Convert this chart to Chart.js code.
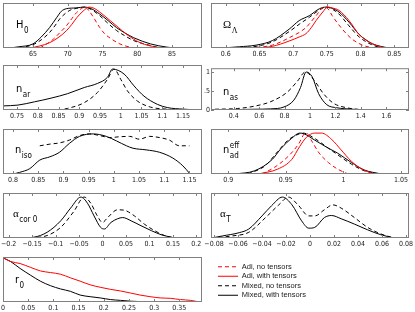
<!DOCTYPE html>
<html lang="en">
<head>
<meta charset="UTF-8">
<title>Marginalised posteriors</title>
<script src="https://cdn.jsdelivr.net/npm/chart.js"></script>
<style>
  body { margin: 0; background: #fff; }
  #wrap { position: relative; width: 415px; height: 312px; overflow: hidden; background: #fff; }
  #wrap canvas { position: absolute; }
</style>
</head>
<body>
<div id="wrap">
  <canvas id="cH0"></canvas>
  <canvas id="cOm"></canvas>
  <canvas id="cNar"></canvas>
  <canvas id="cNas"></canvas>
  <canvas id="cNiso"></canvas>
  <canvas id="cNad"></canvas>
  <canvas id="cAcor"></canvas>
  <canvas id="cAT"></canvas>
  <canvas id="cR0"></canvas>
  <canvas id="cLeg"></canvas>
</div>
<script>
// series names (legend)
const seriesNames = ['Adi, no tensors', 'Adi, with tensors', 'Mixed, no tensors', 'Mixed, with tensors'];

// tick values
const h0Ticks = [65, 70, 75, 80, 85];
const omTicks = [0.6, 0.65, 0.7, 0.75, 0.8, 0.85];
const narTicks = [0.75, 0.8, 0.85, 0.9, 0.95, 1, 1.05, 1.1, 1.15];
const nasTicks = [0.4, 0.6, 0.8, 1, 1.2, 1.4, 1.6];
const nasYTicks = [0, 0.5, 1];
const nasYLabels = ['0', '.5', '1'];
const nisoTicks = [0.8, 0.85, 0.9, 0.95, 1, 1.05, 1.1, 1.15];
const nadTicks = [0.9, 0.95, 1, 1.05];
const acorTicks = [-0.2, -0.15, -0.1, -0.05, 0, 0.05, 0.1, 0.15, 0.2];
const atTicks = [-0.08, -0.06, -0.04, -0.02, 0, 0.02, 0.04, 0.06, 0.08];
const r0Ticks = [0, 0.05, 0.1, 0.15, 0.2, 0.25, 0.3, 0.35];

// H0 : [x, P]
const h0AdiNoT = [[66,0],[67,0.1],[67.9,0.21],[68.9,0.38],[69.8,0.54],[70.6,0.72],[71.3,0.87],[72.5,1.0],[73.1,0.9],[73.7,0.75],[74.6,0.5],[75.3,0.35],[76.1,0.24],[77.5,0.1],[78.5,0.04],[79.5,0]];
const h0AdiT = [[64.5,0],[66,0.05],[67.4,0.13],[68.6,0.25],[69.8,0.42],[70.6,0.58],[71.3,0.74],[72.2,0.9],[73.1,1.0],[73.8,0.97],[74.6,0.88],[76.1,0.67],[77.3,0.5],[78.5,0.33],[80.4,0.13],[82.8,0.02],[84,0]];
const h0MixNoT = [[63,0],[65,0.08],[66.2,0.2],[67.4,0.38],[68.4,0.6],[68.9,0.72],[70.3,0.92],[71.3,0.97],[72.4,1.0],[73.4,0.94],[74.6,0.79],[75.8,0.6],[77,0.43],[78.2,0.3],[79.5,0.18],[81.9,0.06],[83.3,0]];
const h0MixT = [[61.6,0],[63,0.03],[65,0.1],[66.2,0.27],[67.4,0.5],[68.4,0.74],[69.1,0.9],[69.8,0.96],[71.2,0.98],[72.4,1.0],[73.4,0.96],[74.6,0.83],[75.8,0.67],[77,0.5],[78.2,0.37],[79.5,0.25],[81.9,0.1],[84.3,0.02],[85.3,0]];

// Omega_Lambda
const omAdiNoT = [[0.635,0],[0.669,0.07],[0.694,0.25],[0.719,0.5],[0.734,0.79],[0.746,1.0],[0.752,0.95],[0.758,0.79],[0.773,0.46],[0.788,0.21],[0.803,0.07],[0.818,0]];
const omAdiT = [[0.645,0],[0.669,0.04],[0.694,0.17],[0.709,0.27],[0.719,0.35],[0.727,0.5],[0.734,0.67],[0.744,0.88],[0.751,1.0],[0.758,0.98],[0.768,0.92],[0.783,0.67],[0.798,0.33],[0.818,0.1],[0.833,0.02],[0.84,0]];
const omMixNoT = [[0.61,0],[0.645,0.04],[0.669,0.15],[0.694,0.4],[0.709,0.58],[0.724,0.75],[0.739,0.93],[0.749,1.0],[0.758,0.95],[0.768,0.83],[0.783,0.54],[0.798,0.27],[0.818,0.07],[0.833,0]];
const omMixT = [[0.595,0],[0.62,0.03],[0.645,0.07],[0.669,0.18],[0.694,0.46],[0.709,0.67],[0.724,0.79],[0.739,0.96],[0.749,1.0],[0.758,0.97],[0.768,0.88],[0.783,0.63],[0.798,0.33],[0.808,0.2],[0.818,0.1],[0.83,0.04],[0.842,0]];

// n_ar (mixed models only)
const narMixNoT = [[0.848,0],[0.872,0.04],[0.912,0.18],[0.944,0.43],[0.968,0.75],[0.984,1.0],[1.0,0.75],[1.016,0.47],[1.04,0.22],[1.072,0.07],[1.112,0.02],[1.144,0]];
const narMixT = [[0.716,0.1],[0.752,0.12],[0.792,0.2],[0.832,0.29],[0.872,0.4],[0.912,0.55],[0.944,0.65],[0.968,0.8],[0.98,1.0],[1.008,0.88],[1.032,0.59],[1.056,0.34],[1.088,0.14],[1.112,0.06],[1.152,0.02],[1.192,0]];

// n_as
const nasMixNoT = [[0.25,0.02],[0.431,0.04],[0.561,0.1],[0.691,0.22],[0.821,0.47],[0.899,0.75],[0.964,1.0],[1.029,0.8],[1.106,0.43],[1.184,0.18],[1.288,0.06],[1.418,0.01],[1.6,0]];
const nasMixT = [[0.25,0],[0.56,0.02],[0.69,0.03],[0.795,0.08],[0.873,0.26],[0.925,0.59],[0.97,1.0],[1.016,0.88],[1.068,0.43],[1.132,0.14],[1.21,0.06],[1.34,0.02],[1.47,0]];

// n_iso
const nisoMixNoT = [[0.853,0.69],[0.873,0.73],[0.892,0.76],[0.912,0.83],[0.932,0.94],[0.952,0.98],[0.972,0.94],[0.992,0.89],[1.011,0.91],[1.031,0.92],[1.051,0.85],[1.071,0.92],[1.091,0.89],[1.11,0.83],[1.13,0.69],[1.15,0.69]];
const nisoMixT = [[0.8,0],[0.813,0.04],[0.833,0.13],[0.853,0.34],[0.873,0.42],[0.892,0.53],[0.912,0.75],[0.932,0.92],[0.959,0.98],[0.985,0.92],[1.005,0.81],[1.025,0.69],[1.038,0.63],[1.064,0.59],[1.091,0.53],[1.117,0.39],[1.137,0.2],[1.15,0.02]];

// n_ad^eff
const nadAdiNoT = [[0.929,0],[0.94,0.16],[0.952,0.43],[0.961,0.73],[0.966,0.98],[0.968,1.0],[0.972,0.83],[0.979,0.51],[0.987,0.28],[0.995,0.12],[1.004,0]];
const nadAdiT = [[0.926,0],[0.943,0.12],[0.955,0.35],[0.962,0.67],[0.968,0.9],[0.975,1.0],[0.981,1.0],[0.99,0.84],[0.998,0.59],[1.007,0.31],[1.016,0.12],[1.027,0]];
const nadMixNoT = [[0.917,0],[0.932,0.2],[0.943,0.55],[0.952,0.83],[0.959,0.95],[0.965,1.0],[0.975,0.87],[0.987,0.63],[0.995,0.47],[1.007,0.24],[1.018,0.08],[1.03,0]];
const nadMixT = [[0.906,0],[0.923,0.08],[0.938,0.35],[0.946,0.63],[0.955,0.87],[0.962,1.0],[0.966,0.98],[0.975,0.83],[0.987,0.63],[0.995,0.51],[1.007,0.28],[1.018,0.1],[1.033,0]];

// alpha_cor 0
const acorMixNoT = [[-0.154,0],[-0.118,0.06],[-0.089,0.26],[-0.061,0.65],[-0.039,1.0],[-0.025,0.85],[-0.011,0.54],[0,0.38],[0.011,0.5],[0.032,0.69],[0.046,0.68],[0.068,0.54],[0.089,0.34],[0.111,0.18],[0.132,0.06],[0.154,0]];
const acorMixT = [[-0.175,0],[-0.146,0.02],[-0.118,0.14],[-0.089,0.42],[-0.068,0.73],[-0.046,1.0],[-0.032,0.85],[-0.018,0.54],[-0.004,0.26],[0.004,0.22],[0.018,0.38],[0.032,0.47],[0.043,0.5],[0.061,0.42],[0.082,0.3],[0.104,0.18],[0.125,0.08],[0.154,0]];

// alpha_T
const atMixNoT = [[-0.082,0],[-0.065,0.05],[-0.051,0.14],[-0.037,0.5],[-0.026,0.81],[-0.018,1.0],[-0.01,0.81],[-0.001,0.54],[0.004,0.54],[0.012,0.69],[0.019,0.81],[0.026,0.73],[0.037,0.5],[0.048,0.26],[0.059,0.1],[0.07,0]];
const atMixT = [[-0.082,0],[-0.073,0.05],[-0.059,0.13],[-0.051,0.22],[-0.04,0.54],[-0.032,0.79],[-0.023,1.0],[-0.015,0.81],[-0.007,0.42],[-0.001,0.24],[0.004,0.26],[0.012,0.5],[0.018,0.55],[0.026,0.47],[0.037,0.34],[0.048,0.2],[0.059,0.08],[0.07,0]];

// r_0
const r0AdiT = [[0,1.08],[0.015,0.99],[0.034,0.94],[0.054,0.85],[0.074,0.76],[0.094,0.72],[0.114,0.68],[0.134,0.59],[0.153,0.51],[0.173,0.42],[0.193,0.36],[0.213,0.31],[0.233,0.27],[0.253,0.22],[0.272,0.17],[0.292,0.13],[0.312,0.1],[0.332,0.09],[0.352,0.06],[0.372,0.04],[0.39,0]];
const r0MixT = [[0,1.08],[0.015,0.99],[0.034,0.82],[0.054,0.66],[0.074,0.51],[0.094,0.4],[0.114,0.32],[0.134,0.26],[0.153,0.17],[0.173,0.13],[0.193,0.1],[0.213,0.06],[0.233,0.04],[0.253,0.02],[0.272,0.01],[0.312,0]];

// ---- styling ----
const SANS = '"Liberation Sans Narrow", "DejaVu Sans Condensed", "Liberation Sans", Arial, sans-serif';
const SERIF = '"Liberation Serif", "DejaVu Serif", serif';
const tickFont = { family: SANS, size: 7 };
const DASH = [4, 3];
const styles = [
  { color: '#ff0000', dash: DASH },
  { color: '#ff0000', dash: [] },
  { color: '#000000', dash: DASH },
  { color: '#000000', dash: [] }
];

function line(points, k) {
  return {
    label: seriesNames[k],
    data: points.map(p => ({ x: p[0], y: p[1] })),
    borderColor: styles[k].color,
    borderDash: styles[k].dash,
    borderWidth: 1,
    pointRadius: 0,
    pointStyle: 'line',
    cubicInterpolationMode: 'monotone',
    fill: false
  };
}

function fmt(v) {
  return String(v).replace('-', '\u2212');
}

// frame with inward ticks, drawn on top of curves
const framePlugin = {
  id: 'frame',
  afterDatasetsDraw(chart) {
    const { ctx, chartArea: a, scales } = chart;
    ctx.save();
    ctx.strokeStyle = '#808080';
    ctx.lineWidth = 1;
    ctx.strokeRect(a.left + 0.5, a.top + 0.5, a.right - a.left - 1, a.bottom - a.top - 1);
    ctx.beginPath();
    scales.x.ticks.forEach(t => {
      const px = Math.round(scales.x.getPixelForValue(t.value)) + 0.5;
      ctx.moveTo(px, a.bottom); ctx.lineTo(px, a.bottom - 3);
      ctx.moveTo(px, a.top); ctx.lineTo(px, a.top + 3);
    });
    if (scales.y.options.display) {
      scales.y.ticks.forEach(t => {
        const py = Math.round(scales.y.getPixelForValue(t.value)) + 0.5;
        ctx.moveTo(a.left, py); ctx.lineTo(a.left + 3, py);
        ctx.moveTo(a.right, py); ctx.lineTo(a.right - 3, py);
      });
    }
    ctx.stroke();
    ctx.restore();
  }
};

// parameter name inside each panel, with sub/superscripts
const labelPlugin = {
  id: 'panelLabel',
  afterDatasetsDraw(chart, args, o) {
    const { ctx, chartArea: a } = chart;
    const x = a.left + o.dx, y = a.top + o.dy;
    ctx.save();
    ctx.fillStyle = '#000';
    ctx.textBaseline = 'alphabetic';
    ctx.textAlign = 'left';
    ctx.font = '11px ' + (o.greek ? SERIF : SANS);
    ctx.fillText(o.main, x, y);
    const w = ctx.measureText(o.main).width;
    ctx.font = '8px ' + (o.subGreek ? SERIF : SANS);
    if (o.sup) ctx.fillText(o.sup, x + w + 0.5, y - 5);
    if (o.sub) ctx.fillText(o.sub, x + w + 0.5, y + 4.5);
    ctx.restore();
  }
};

function makePanel(id, box, xMin, xMax, ticks, datasets, label, withY) {
  const padL = 12, padR = 12, padT = 2, axisH = 11, yW = withY ? 9 : 0;
  const cv = document.getElementById(id);
  cv.width = box.w + padL + padR + yW;
  cv.height = box.h + padT + axisH;
  cv.style.left = (box.x - padL - yW) + 'px';
  cv.style.top = (box.y - padT) + 'px';
  return new Chart(cv, {
    type: 'line',
    data: { datasets },
    options: {
      responsive: false,
      animation: false,
      events: [],
      layout: { padding: { left: padL, right: padR, top: padT, bottom: 0 } },
      plugins: {
        legend: { display: false },
        tooltip: { enabled: false },
        panelLabel: label
      },
      scales: {
        x: {
          type: 'linear', min: xMin, max: xMax,
          afterBuildTicks: s => { s.ticks = ticks.map(v => ({ value: v })); },
          afterFit: s => { s.height = axisH; },
          grid: { display: false, drawTicks: false },
          border: { display: false },
          ticks: { font: tickFont, color: '#1a1a1a', padding: 2, maxRotation: 0, autoSkip: false, callback: v => fmt(v) }
        },
        y: {
          min: 0, max: 1.1,
          display: !!withY,
          afterBuildTicks: s => { s.ticks = nasYTicks.map(v => ({ value: v })); },
          afterFit: s => { s.width = yW; },
          grid: { display: false, drawTicks: false },
          border: { display: false },
          ticks: { font: tickFont, color: '#1a1a1a', padding: 1, autoSkip: false, callback: (v, i) => nasYLabels[i] }
        }
      }
    },
    plugins: [framePlugin, labelPlugin]
  });
}

const colL = 3, colR = 211, wL = 199, wR = 198, boxH = 45;
const rowTop = [3, 65, 129, 193, 257];

makePanel('cH0', { x: colL, y: rowTop[0], w: wL, h: boxH }, 60.7, 89.3, h0Ticks,
  [line(h0AdiNoT, 0), line(h0AdiT, 1), line(h0MixNoT, 2), line(h0MixT, 3)],
  { main: 'H', sub: '0', dx: 13, dy: 25 });
makePanel('cOm', { x: colR, y: rowTop[0], w: wR, h: boxH }, 0.578, 0.872, omTicks,
  [line(omAdiNoT, 0), line(omAdiT, 1), line(omMixNoT, 2), line(omMixT, 3)],
  { main: '\u03A9', sub: '\u039B', greek: true, subGreek: true, dx: 12, dy: 25 });
makePanel('cNar', { x: colL, y: rowTop[1], w: wL, h: boxH }, 0.716, 1.196, narTicks,
  [line(narMixNoT, 2), line(narMixT, 3)],
  { main: 'n', sub: 'ar', dx: 13, dy: 27 });
makePanel('cNas', { x: colR, y: rowTop[1], w: wR, h: boxH }, 0.22, 1.78, nasTicks,
  [line(nasMixNoT, 2), line(nasMixT, 3)],
  { main: 'n', sub: 'as', dx: 12, dy: 27 }, true);
makePanel('cNiso', { x: colL, y: rowTop[2], w: wL, h: boxH }, 0.78, 1.175, nisoTicks,
  [line(nisoMixNoT, 2), line(nisoMixT, 3)],
  { main: 'n', sub: 'iso', dx: 12, dy: 24 });
makePanel('cNad', { x: colR, y: rowTop[2], w: wR, h: boxH }, 0.885, 1.057, nadTicks,
  [line(nadAdiNoT, 0), line(nadAdiT, 1), line(nadMixNoT, 2), line(nadMixT, 3)],
  { main: 'n', sub: 'ad', sup: 'eff', dx: 12, dy: 24 });
makePanel('cAcor', { x: colL, y: rowTop[3], w: wL, h: boxH }, -0.212, 0.212, acorTicks,
  [line(acorMixNoT, 2), line(acorMixT, 3)],
  { main: '\u03B1', sub: 'cor 0', greek: true, dx: 10, dy: 24 });
makePanel('cAT', { x: colR, y: rowTop[3], w: wR, h: boxH }, -0.0825, 0.0825, atTicks,
  [line(atMixNoT, 2), line(atMixT, 3)],
  { main: '\u03B1', sub: 'T', greek: true, dx: 9, dy: 24 });
makePanel('cR0', { x: colL, y: rowTop[4], w: wL, h: boxH }, 0, 0.395, r0Ticks,
  [line(r0AdiT, 1), line(r0MixT, 3)],
  { main: 'r', sub: '0', dx: 12, dy: 26 });

// legend only chart
const lg = document.getElementById('cLeg');
lg.width = 209; lg.height = 57;
lg.style.left = '206px'; lg.style.top = '255px';
new Chart(lg, {
  type: 'line',
  data: { datasets: seriesNames.map((n, k) => line([], k)) },
  options: {
    responsive: false,
    animation: false,
    events: [],
    layout: { padding: { left: 10, top: 6 } },
    scales: { x: { display: false }, y: { display: false } },
    plugins: {
      tooltip: { enabled: false },
      legend: {
        position: 'left',
        align: 'start',
        labels: {
          usePointStyle: true,
          pointStyleWidth: 20,
          padding: 2,
          color: '#1a1a1a',
          font: { family: '"Liberation Sans", Arial, sans-serif', size: 7.5 },
          generateLabels: chart => Chart.defaults.plugins.legend.labels.generateLabels(chart).map((it, i) => ({
            ...it,
            pointStyle: 'line',
            lineDash: chart.data.datasets[i].borderDash,
            strokeStyle: chart.data.datasets[i].borderColor,
            lineWidth: 1
          }))
        }
      }
    }
  }
});
</script>
</body>
</html>
